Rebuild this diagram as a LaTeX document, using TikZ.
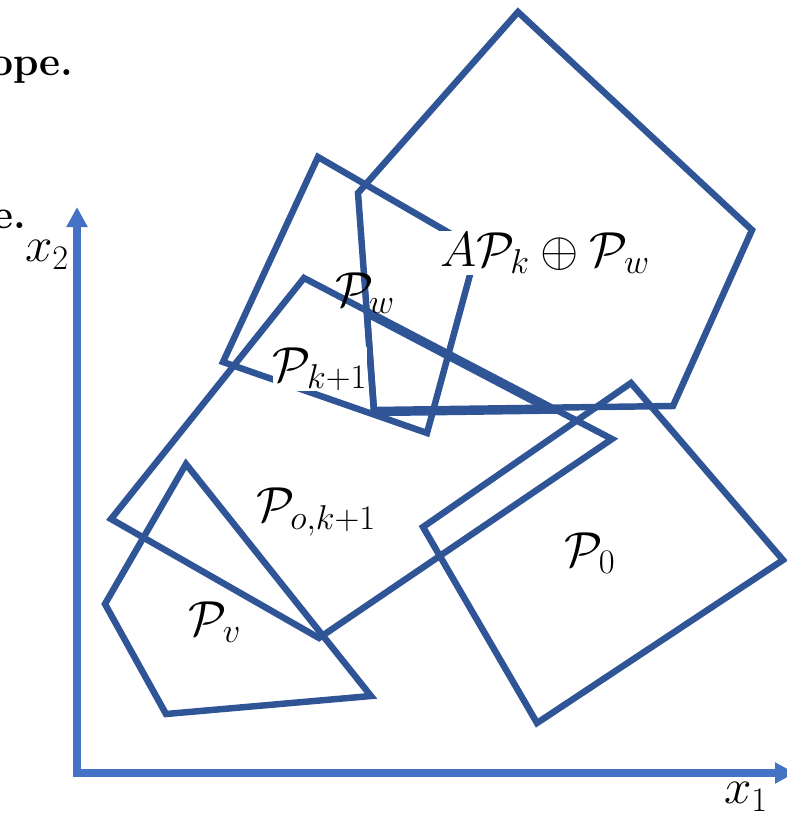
\RequirePackage{fix-cm}
\documentclass[tikz,border=0pt]{standalone}
\usetikzlibrary{arrows.meta}
\definecolor{axisblue}{HTML}{4472C4}
\definecolor{setblue}{HTML}{2F5597}
\tikzset{
    poly/.style={draw=setblue, line width=4.6pt},
    axis/.style={draw=axisblue, line width=5pt,
        {Triangle[length=0.5cm,width=0.5cm]}-{Triangle[length=0.5cm,width=0.5cm]}},
    lbl/.style={inner sep=1pt, font=\fontsize{35}{42}\selectfont},
    cut/.style={anchor=base west, inner sep=0pt, font=\fontsize{29}{34}\selectfont\bfseries},
}
\begin{document}
\begin{tikzpicture}[x=0.025cm, y=-0.025cm]
    \useasboundingbox (0,0) rectangle (787,817);
    % text cut off at the left border
    \node[cut] (topline) at (-10,75) {ope.};
    \node[cut] (midline) at (-8,228) {e.};
    % axes
    \draw[axis] (77,207) |- (795,773);
    % sets
    \draw[poly] (358,193) -- (518,12) -- (752,230) -- (673,406) -- (374,410) -- cycle;
    \draw[poly] (318,157) -- (477,249) -- (427,433) -- (223,362) -- cycle;
    \draw[poly] (304,278) -- (612,439) -- (319,638) -- (111,519) -- cycle;
    \draw[poly] (367,314) -- (551,410.6) -- (374,413) -- cycle;
    \draw[poly] (186,464) -- (371,696) -- (166,714) -- (105,604) -- cycle;
    \draw[poly] (631,383) -- (783,560) -- (537,723) -- (423,527) -- cycle;
    % labels
    \node[lbl, fill=white] (sumlbl) at (545,253) {$A\mathcal{P}_k \oplus \mathcal{P}_w$};
    \node[lbl] (pw) at (365,293) {$\mathcal{P}_w$};
    \node[lbl, fill=white, inner sep=0pt] (pk1) at (320,369) {$\mathcal{P}_{k+1}$};
    \node[lbl] (pok1) at (316,512) {$\mathcal{P}_{o,k+1}$};
    \node[lbl] (pv) at (215,622) {$\mathcal{P}_v$};
    \node[lbl] (p0) at (590,553) {$\mathcal{P}_0$};
    \node[lbl] (x2) at (47,255) {$x_2$};
    \node[lbl] (x1) at (746,797) {$x_1$};
\end{tikzpicture}
\end{document}
